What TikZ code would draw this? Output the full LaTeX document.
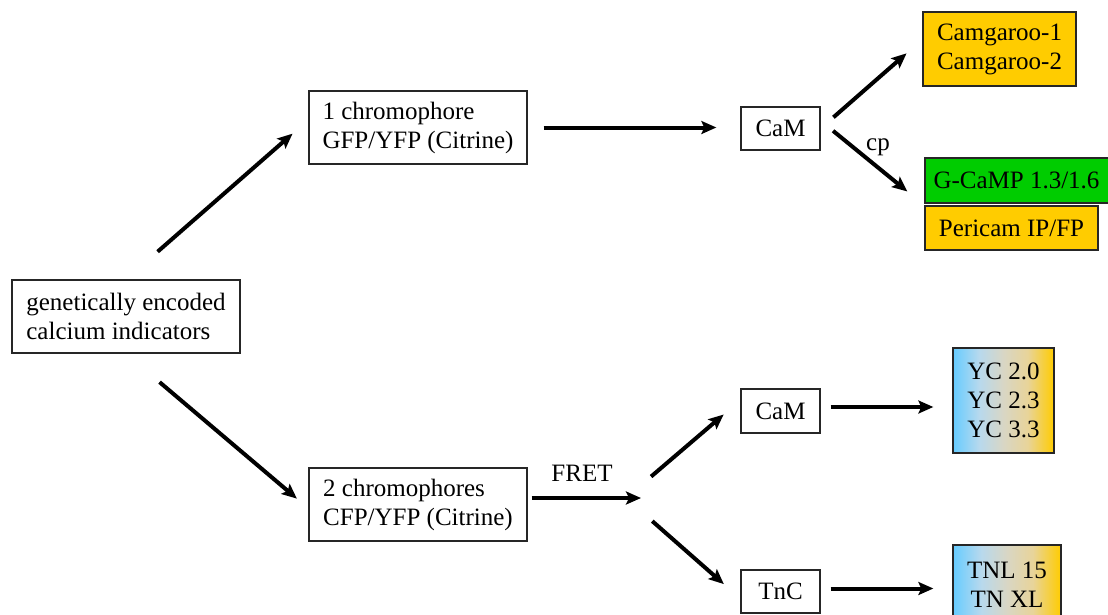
\documentclass[tikz,border=0pt]{standalone}
\usepackage{fontspec}
\setmainfont{Liberation Serif}
\usetikzlibrary{arrows.meta}

\definecolor{gecigold}{RGB}{255,204,0}
\definecolor{gecigreen}{RGB}{0,204,0}
\pgfdeclarehorizontalshading{gecifret}{100bp}{rgb(0bp)=(0.40,0.80,1.00); rgb(25bp)=(0.40,0.80,1.00);
  rgb(38bp)=(0.72,0.85,0.93); rgb(50bp)=(0.85,0.84,0.77); rgb(62bp)=(0.91,0.83,0.60);
  rgb(75bp)=(1.00,0.80,0.00); rgb(100bp)=(1.00,0.80,0.00)}

\begin{document}
\begin{tikzpicture}
     [
     x=1pt, y=-1pt,
     every node/.style={font=\fontsize{25}{29}\selectfont},
     box/.style={draw=black!85, line width=1.3pt, align=left, inner sep=0pt},
     goldbox/.style={box, align=center, fill=gecigold},
     fretbox/.style={box, align=center, shading=gecifret},
     arr/.style={-{Stealth[length=15pt,width=13pt,inset=3pt]}, line width=4pt}
     ]
     \useasboundingbox (0,0) rectangle (1108,614);
     % boxes
     \node[box, minimum width=228, minimum height=73] (gen) at (126,316.5) {genetically encoded\\calcium indicators};
     \node[box, minimum width=218, minimum height=73] (one) at (418,127.5) {1 chromophore\\GFP/YFP (Citrine)};
     \node[box, minimum width=218, minimum height=73] (two) at (418,504.5) {2 chromophores\\CFP/YFP (Citrine)};
     \node[box, align=center, minimum width=79, minimum height=43] (cam1) at (780.5,128.5) {CaM};
     \node[box, align=center, minimum width=79, minimum height=44] (cam2) at (780.5,411) {CaM};
     \node[box, align=center, minimum width=79, minimum height=43] (tnc) at (780.5,591.5) {TnC};
     \node[goldbox, minimum width=153, minimum height=74] (camg) at (999.5,49) {Camgaroo-1\\Camgaroo-2};
     \node[box, fill=gecigreen, minimum width=196, minimum height=45] (gcamp) at (1023,180.5) {\hspace*{-13pt}G-CaMP 1.3/1.6};
     \node[goldbox, minimum width=173, minimum height=44] (peri) at (1011.5,228) {Pericam IP/FP};
     \node[fretbox, minimum width=101, minimum height=105] (yc) at (1003.5,400.5) {YC 2.0\\YC 2.3\\YC 3.3};
     \node[fretbox, minimum width=108, minimum height=80] (tnl) at (1007,585) {TNL 15\\TN XL};
     \coordinate (fork) at (626,498);

     % arrows
     \draw[arr, shorten <=42, shorten >=21] (gen.north) -- (one.176);
     \draw[arr, shorten <=44, shorten >=15] (gen.south) -- (two.182);
     \draw[arr, shorten <=16, shorten >=24] (one.east) -- (one.east -| cam1.west);
     \draw[arr, shorten <=4] (two.east |- fork) -- ([xshift=15]fork);
     \draw[arr, shorten <=33, shorten >=22] (fork) -- (cam2.165);
     \draw[arr, shorten <=35, shorten >=22] (fork) -- (tnc.190);
     \draw[arr, shorten <=17, shorten >=21] (cam1.east) -- (camg.173);
     \draw[arr, shorten <=16, shorten >=22] (cam1.11) -- (peri.north west);
     \draw[arr, shorten <=10, shorten >=19] ([yshift=4]cam2.east) -- ([yshift=4]cam2.east -| yc.west);
     \draw[arr, shorten <=10, shorten >=19] ([yshift=3]tnc.east) -- ([yshift=3]tnc.east -| tnl.west);

     % labels
     \node (cplbl) at (878,147) {cp};
     \node (fretlbl) at (582,473) {FRET};
\end{tikzpicture}
\end{document}
